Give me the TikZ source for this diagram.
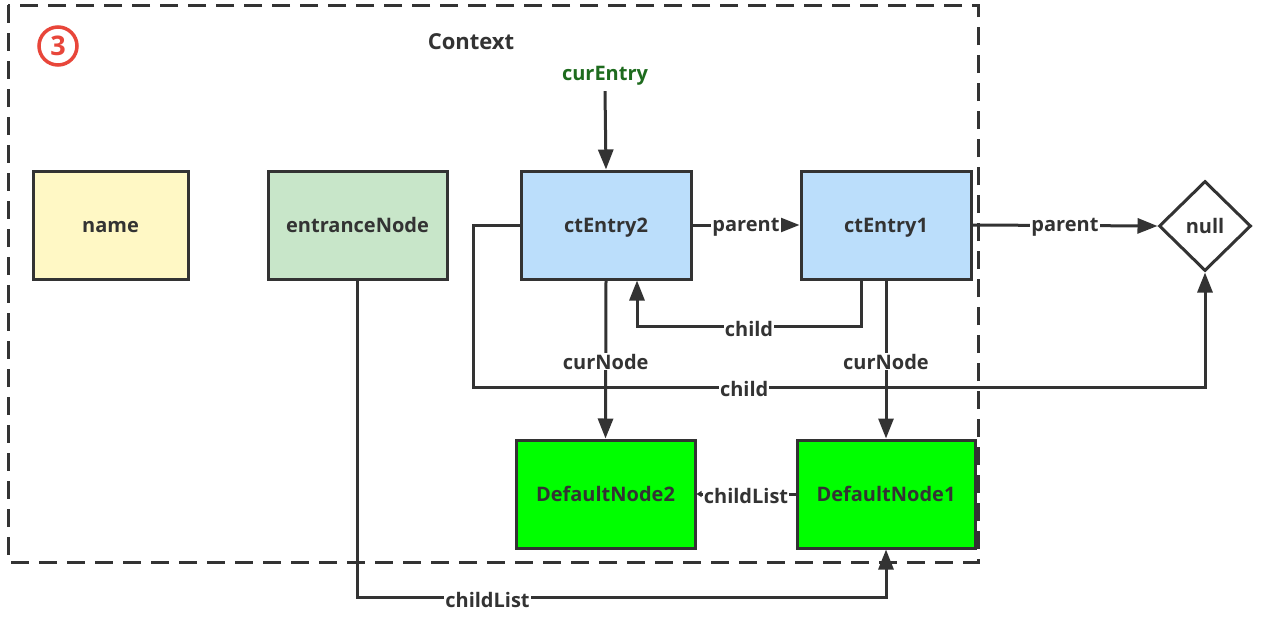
\documentclass[tikz,border=0pt]{standalone}
\usepackage{fontspec}
\setmainfont{Open Sans}
\usetikzlibrary{arrows.meta,shapes.geometric}
\definecolor{linec}{HTML}{333333}
\definecolor{yel}{HTML}{FFF8C5}
\definecolor{lgreen}{HTML}{C8E6C9}
\definecolor{lblue}{HTML}{BBDEFB}
\definecolor{bgreen}{HTML}{00FF00}
\definecolor{dgreen}{HTML}{1E6B1E}
\definecolor{redc}{HTML}{E8463A}
\begin{document}
\begin{tikzpicture}[x=1pt,y=-1pt,
  box/.style={draw=linec, line width=3pt, minimum height=108pt, inner sep=0pt,
    text height=15pt, text depth=0pt,
    font=\bfseries\fontsize{20}{24}\selectfont, text=linec},
  lbl/.style={fill=white, inner sep=1pt, font=\bfseries\fontsize{20}{24}\selectfont, text=linec, yshift=-2pt},
  arr/.style={draw=linec, line width=3pt, -{Triangle[length=20pt,width=15pt]}},
  smallarr/.style={draw=linec, line width=3pt, -{Triangle[length=5pt,width=6pt]}}
]
\useasboundingbox (0,0) rectangle (1280,624);
\fill[white] (0,0) rectangle (1280,624);

% context frame
\draw[linec, line width=3pt, dash pattern=on 18pt off 10pt] (8,5) rectangle (978,562);
\node[circle, draw=redc, line width=3.5pt, minimum size=38pt, inner sep=0pt,
  text=redc, font=\bfseries\fontsize{27}{29}\selectfont] (num) at (58,46) {3};
\node[font=\bfseries\fontsize{22}{26}\selectfont, text=linec] (ctx) at (471,42) {Context};
\node[font=\bfseries\fontsize{20}{24}\selectfont, text=dgreen] (cur) at (605,76) {curEntry};

% boxes
\node[box, fill=yel, minimum width=155pt] (name) at (110.5,225) {name};
\node[box, fill=lgreen, minimum width=179pt] (entr) at (357.5,225) {entranceNode};
\node[box, fill=lblue, minimum width=170pt] (ce2) at (606,225) {ctEntry2};
\node[box, fill=lblue, minimum width=170pt] (ce1) at (886,225) {ctEntry1};
\node[box, fill=bgreen, minimum width=179pt] (dn2) at (605.5,494) {DefaultNode2};
\node[box, fill=bgreen, minimum width=178pt] (dn1) at (886,494) {DefaultNode1};
\node[diamond, draw=linec, line width=3pt, minimum width=92pt, minimum height=90pt,
  inner sep=0pt, text height=15pt, text depth=0pt,
  font=\bfseries\fontsize{20}{24}\selectfont, text=linec] (null) at (1205,226) {null};

% connectors
\draw[arr] (cur.south) ++(0,2) coordinate (cs) (cs) -- (ce2.north);
\draw[arr] (ce2.east) -- node[lbl]{parent} (ce1.west);
\draw[arr] (ce1.east) -- node[lbl]{parent} (null.west);
\draw[arr] ([xshift=-25pt]ce1.south) -- ++(0,46) -| node[lbl, pos=0.25]{child} ([xshift=31pt]ce2.south);
\draw[arr] (ce2.west) -- ++(-46,0) -- ++(0,162) -| node[lbl, pos=0.185]{child} (null.south);
\draw[arr] (ce2.south) -- node[lbl]{curNode} (dn2.north);
\draw[arr] (ce1.south) -- node[lbl]{curNode} (dn1.north);
\draw[smallarr] (dn1.west) -- node[lbl]{childList} (dn2.east);
\draw[arr] (entr.south) -- ++(0,317) -| node[lbl, pos=0.123]{childList} (dn1.south);
\end{tikzpicture}
\end{document}
